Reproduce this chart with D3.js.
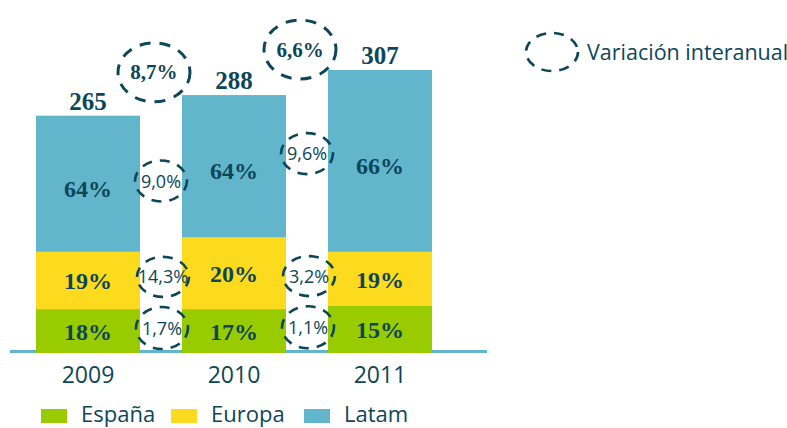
<!DOCTYPE html>
<html><head><meta charset="utf-8">
<script src="https://cdn.jsdelivr.net/npm/d3@7/dist/d3.min.js"></script>
<style>body{margin:0;background:#fff}svg{display:block}</style>
</head><body>
<svg id="c" width="787" height="428"></svg>
<script>
// ---- data (segment heights as drawn, totals & shares as labelled) ----
const years = ["2009", "2010", "2011"];
const totals = [265, 288, 307];
const espana = [49, 49, 52.5];
const europa = [64, 80, 60.5];
const latam = [152, 159, 203];
const espanaPct = ["18%", "17%", "15%"];
const europaPct = ["19%", "20%", "19%"];
const latamPct = ["64%", "64%", "66%"];
const totalGrowth = ["8,7%", "6,6%"];
const latamGrowth = ["9,0%", "9,6%"];
const europaGrowth = ["14,3%", "3,2%"];
const espanaGrowth = ["1,7%", "1,1%"];
const seriesNames = ["España", "Europa", "Latam"];
const legendNote = "Variación interanual";

// ---- styles / layout ----
const colors = {"España": "#99cc00", "Europa": "#fcda1e", "Latam": "#62b6cc"};
const ink = "#0d4659";
const serif = "'Liberation Serif','Times New Roman',serif";
const sans = "'Open Sans','DejaVu Sans',sans-serif";

const svg = d3.select("#c");
const x = d3.scaleBand().domain(years).range([15, 453]).paddingInner(0.2877).paddingOuter(0.1438);
const y = d3.scaleLinear().domain([0, 316]).range([353, 70]);

const rows = years.map((yr, i) => ({year: yr, "España": espana[i], "Europa": europa[i], "Latam": latam[i]}));
const stack = d3.stack().keys(seriesNames)(rows);

// baseline
svg.append("line").attr("x1", 10).attr("x2", 487).attr("y1", y(0) - 1.5).attr("y2", y(0) - 1.5)
  .attr("stroke", "#62b6cc").attr("stroke-width", 3);

// bars
const pctBy = {"España": espanaPct, "Europa": europaPct, "Latam": latamPct};
stack.forEach(s => {
  const g = svg.append("g");
  g.selectAll("rect").data(s).join("rect")
    .attr("x", d => x(d.data.year)).attr("width", x.bandwidth())
    .attr("y", d => y(d[1])).attr("height", d => y(d[0]) - y(d[1]))
    .attr("fill", colors[s.key]);
  g.selectAll("text").data(s).join("text")
    .attr("x", d => x(d.data.year) + x.bandwidth() / 2)
    .attr("y", d => (y(d[0]) + y(d[1])) / 2 + 9 + (s.key === "Latam" ? 4 : 0))
    .attr("text-anchor", "middle").attr("font-family", serif).attr("font-weight", "bold")
    .attr("font-size", 24).attr("fill", ink)
    .text((d, i) => pctBy[s.key][i]);
});

// totals
svg.append("g").selectAll("text").data(totals).join("text")
  .attr("x", (d, i) => x(years[i]) + x.bandwidth() / 2)
  .attr("y", (d, i) => y(stack[2][i][1]) - 6)
  .attr("text-anchor", "middle").attr("font-family", serif).attr("font-weight", "bold")
  .attr("font-size", 25).attr("fill", ink).text(d => d);

// growth ellipses
function gap(i) { return (x(years[i]) + x.bandwidth() + x(years[i + 1])) / 2; }
function ellipse(cx, cy, rx, ry, label, big) {
  svg.append("ellipse").attr("cx", cx).attr("cy", cy).attr("rx", rx).attr("ry", ry)
    .attr("fill", "none")
    .attr("stroke", ink).attr("stroke-width", big ? 3 : 2.6)
    .attr("stroke-dasharray", big ? "11,9" : "10,8");
  if (label) {
    svg.append("text").attr("x", cx).attr("y", cy + (big ? 7 : 6.5))
      .attr("text-anchor", "middle")
      .attr("font-family", big ? serif : sans).attr("font-weight", big ? "bold" : "normal")
      .attr("font-size", big ? 21 : 18).attr("fill", ink).text(label);
  }
}
const segMid = (k, i) => (y(stack[k][i][0]) + y(stack[k][i][1])) / 2;
const nudge = {0: [3, 0], 1: [0, 0], 2: [6, -10]};
[0, 1].forEach(i => {
  const cx = gap(i);
  ellipse(cx - 7, (y(stack[2][i][1]) + y(stack[2][i + 1][1])) / 2 - 33, 36, 29.5, totalGrowth[i], true);
  ellipse(cx, (segMid(2, i) + segMid(2, i + 1)) / 2 + nudge[2][i], 26, 20.5, latamGrowth[i], false);
  ellipse(cx + 2, (segMid(1, i) + segMid(1, i + 1)) / 2, 26, 20, europaGrowth[i], false);
  ellipse(cx + 1, (segMid(0, i) + segMid(0, i + 1)) / 2 - 3, 26, 21, espanaGrowth[i], false);
});

// legend note
ellipse(552, 52, 26, 19, null, false);
svg.append("text").attr("x", 587).attr("y", 60).attr("font-family", sans)
  .attr("font-size", 21.5).attr("fill", ink).text(legendNote);

// x axis labels
const xAxis = d3.axisBottom(x).tickSize(0).tickPadding(0);
const ax = svg.append("g").attr("transform", `translate(0,${y(0) + 14})`).call(xAxis);
ax.select(".domain").remove();
ax.selectAll("text").attr("font-family", sans).attr("font-size", 23).attr("fill", ink).attr("dy", "0.71em");

// legend
const lg = svg.append("g");
const legX = [41, 171, 304];
seriesNames.forEach((n, i) => {
  lg.append("rect").attr("x", legX[i]).attr("y", 409).attr("width", 26).attr("height", 14).attr("fill", colors[n]);
  lg.append("text").attr("x", legX[i] + 40).attr("y", 422).attr("font-family", sans)
    .attr("font-size", 22).attr("fill", ink).text(n);
});
</script>
</body></html>
